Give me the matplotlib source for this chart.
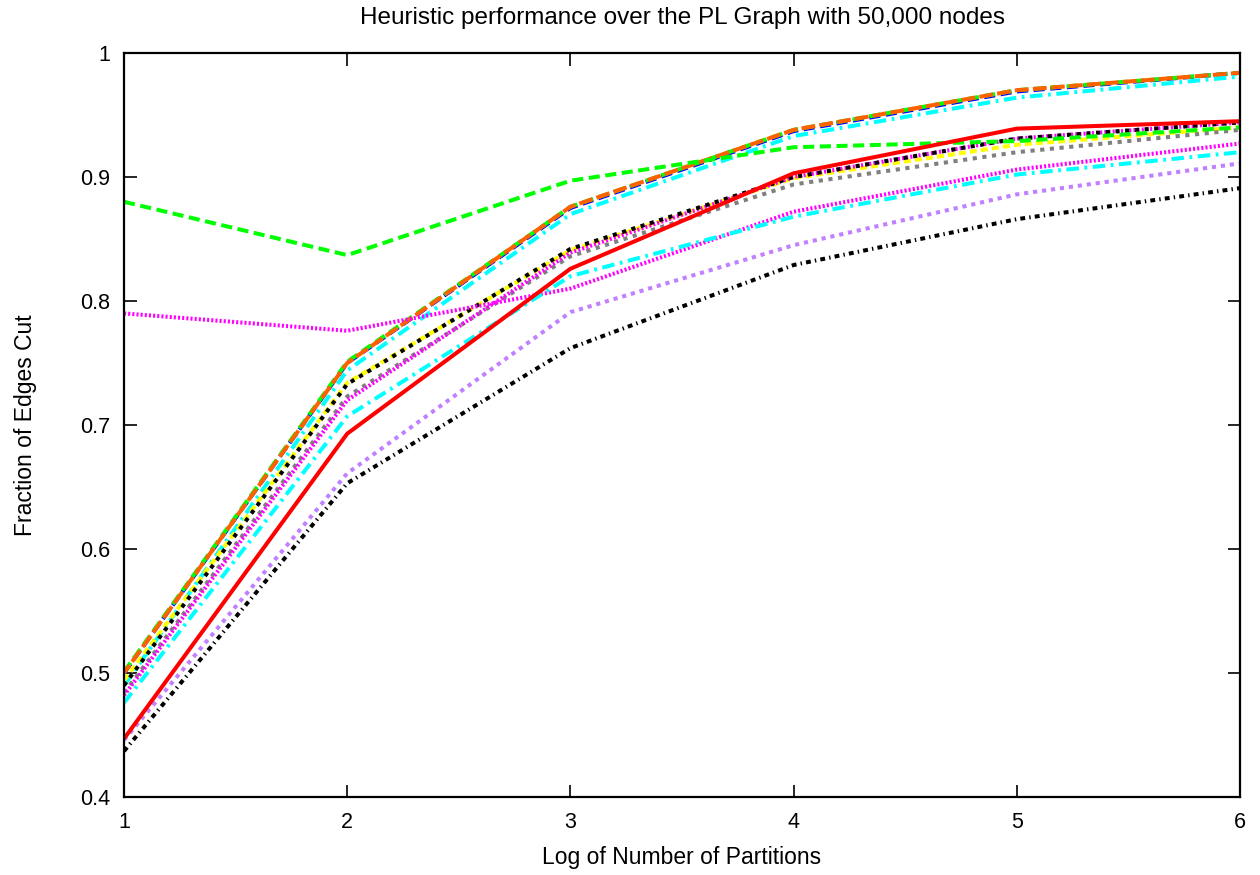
import numpy as np
import matplotlib
matplotlib.use("Agg")
import matplotlib.pyplot as plt

plt.rcParams['font.family'] = ['Liberation Sans', 'DejaVu Sans']
plt.rcParams['lines.scale_dashes'] = False

log_parts = [1, 2, 3, 4, 5, 6]

# one list per heuristic
red_solid      = [0.447, 0.693, 0.826, 0.903, 0.939, 0.945]
green_dash     = [0.880, 0.837, 0.897, 0.924, 0.929, 0.940]
blue_dash      = [0.500, 0.750, 0.875, 0.937, 0.969, 0.984]
magenta_dot    = [0.790, 0.776, 0.810, 0.872, 0.906, 0.927]
cyan_dashdot   = [0.476, 0.707, 0.820, 0.868, 0.902, 0.920]
purple_dot     = [0.446, 0.661, 0.791, 0.845, 0.886, 0.911]
black_dashdot  = [0.437, 0.653, 0.762, 0.829, 0.866, 0.891]
gray_dot       = [0.484, 0.723, 0.836, 0.894, 0.920, 0.938]
yellow_dash    = [0.494, 0.734, 0.841, 0.899, 0.926, 0.940]
magenta_dot2   = [0.482, 0.720, 0.839, 0.900, 0.931, 0.944]
black_dot      = [0.490, 0.733, 0.842, 0.900, 0.931, 0.944]
cyan_dashdot2  = [0.490, 0.744, 0.870, 0.933, 0.964, 0.981]
green_dash2    = [0.501, 0.751, 0.876, 0.938, 0.970, 0.984]
orange_dash    = [0.500, 0.750, 0.876, 0.938, 0.970, 0.984]

series = [
    (blue_dash,     '#0000ff', (0, (8, 4))),
    (green_dash2,   '#00ff00', (0, (8, 4))),
    (orange_dash,   '#ff6000', (3, (10, 3))),
    (cyan_dashdot2, '#00ffff', (0, (9, 4, 2, 4))),
    (yellow_dash,   '#ffff00', (0, (5, 3))),
    (gray_dot,      '#808080', (0, (3, 4))),
    (magenta_dot2,  '#ff00ff', (0, (1.5, 1.5))),
    (black_dot,     '#000000', (0, (3, 4))),
    (green_dash,    '#00ff00', (0, (8, 4))),
    (magenta_dot,   '#ff00ff', (0, (1.5, 1.5))),
    (cyan_dashdot,  '#00ffff', (0, (9, 4, 2, 4))),
    (purple_dot,    '#c080ff', (0, (3, 3.5))),
    (black_dashdot, '#000000', (0, (3.5, 3, 1, 3))),
    (red_solid,     '#ff0000', '-'),
]

fig = plt.figure(figsize=(12.6, 8.75), dpi=100)
ax = fig.add_axes([124 / 1260, 1 - 797 / 875, 1116 / 1260, 744 / 875])

for vals, col, ls in series:
    ax.plot(log_parts, vals, color=col, linestyle=ls, linewidth=2.9,
            solid_capstyle='butt', dash_capstyle='butt')

ax.set_xlim(1, 6)
ax.set_ylim(0.4, 1.0)
ax.set_xticks(log_parts)
ax.set_yticks(np.arange(0.4, 1.01, 0.1))
ax.set_yticklabels(['0.4', '0.5', '0.6', '0.7', '0.8', '0.9', '1'])
ax.tick_params(direction='in', length=9, width=1.2, top=True, right=True,
               labelsize=15.5)
ax.tick_params(axis='x', pad=11)
ax.tick_params(axis='y', pad=10)
for sp in ax.spines.values():
    sp.set_linewidth(1.6)

ax.set_title('Heuristic performance over the PL Graph with 50,000 nodes',
             fontsize=17.5, pad=21)
ax.set_xlabel('Log of Number of Partitions', fontsize=16.5, labelpad=9)
ax.set_ylabel('Fraction of Edges Cut', fontsize=16.5, labelpad=31)

fig.savefig('out.png', dpi=100)
